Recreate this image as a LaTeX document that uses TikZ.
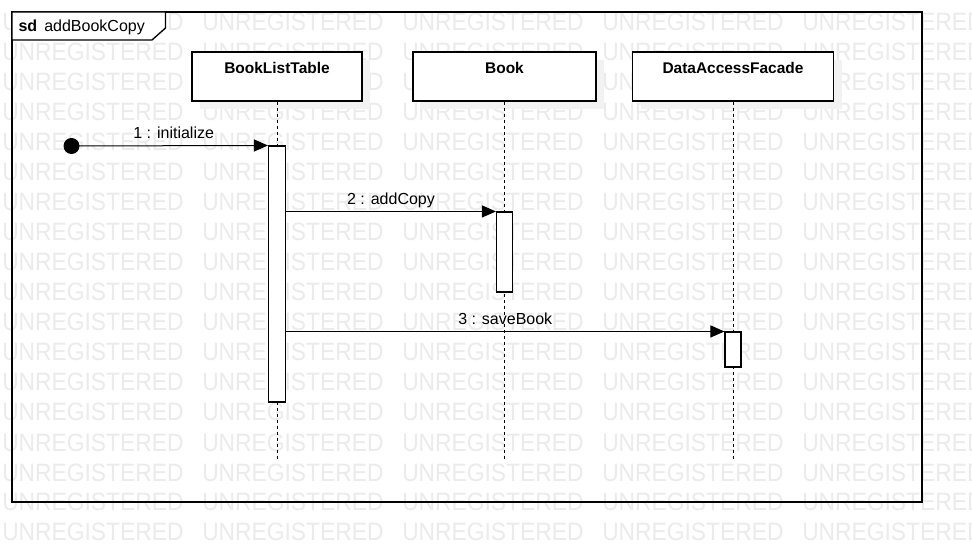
\documentclass[tikz,border=0pt]{standalone}
\usepackage{fontspec}
\usepackage{graphicx}
\setmainfont{Liberation Sans}
\usetikzlibrary{arrows.meta,shadows}
\begin{document}
\begin{tikzpicture}[x=0.75pt,y=-0.75pt,
  wm/.style={text=black!8, font=\fontsize{18.8}{20}\selectfont, anchor=base west, inner sep=0pt},
  frameline/.style={draw=black, line width=1pt},
  obj/.style={draw=black, fill=white, line width=0.8pt, inner xsep=0pt, inner ysep=0pt,
    minimum height=36.75pt, text height=16pt, text depth=20.75pt,
    font=\fontsize{11.6}{14}\selectfont\bfseries,
    drop shadow={shadow xshift=6pt, shadow yshift=-6pt, fill=black!5, opacity=1}},
  act/.style={draw=black, fill=white, line width=0.8pt, inner sep=0pt, minimum width=12pt},
  lifeline/.style={draw=black, line width=0.75pt, dash pattern=on 2.4pt off 2.1pt},
  msg/.style={draw=black, line width=0.75pt, -{Triangle[length=10.5pt,width=9pt]}},
  lbl/.style={font=\fontsize{12}{14}\selectfont, anchor=base, inner sep=0pt, yshift=5.4pt},
  startdot/.style={circle, fill=black, minimum size=12pt, inner sep=0pt}
]
\clip (0,0) rectangle (972,552);
\fill[white] (0,0) rectangle (972,552);
% watermark
\foreach \r in {0,...,17}{
  \foreach \c in {0,...,4}{
    \node[wm] (w\r-\c) at (2+200*\c, 31+30*\r) {\scalebox{0.91}[1]{UNREGISTERED}};
  }
}
% frame
\draw[frameline] (12,12) rectangle (922,502);
\draw[frameline, fill=white] (12,12) -- (165.5,12) -- (165.5,28) -- (152,40) -- (12,40) -- cycle;
\node[anchor=base west, inner sep=0pt, font=\fontsize{12}{14}\selectfont] (title) at (18.3,31.5) {\textbf{sd}\hspace{5.3pt}addBookCopy};
% objects
\node[obj, minimum width=127.5pt] (blt) at (277,76.5) {BookListTable};
\node[obj, minimum width=137.25pt] (book) at (504.5,76.5) {Book};
\node[obj, minimum width=150.75pt] (daf) at (733,76.5) {DataAccessFacade};
% lifeline ends
\coordinate (bltend) at (277,459);
\coordinate (bookend) at (504.5,459);
\coordinate (dafend) at (733,459);
\draw[lifeline] (blt.south) -- (bltend);
\draw[lifeline] (book.south) -- (bookend);
\draw[lifeline] (daf.south) -- (dafend);
% activations
\node[act, minimum width=12.75pt, minimum height=192pt] (a1) at (277,274) {};
\node[act, minimum height=60pt] (a2) at (504.5,252) {};
\node[act, minimum height=26.25pt] (a3) at (733,349.5) {};
% start
\node[startdot] (start) at (71.5,146) {};
% messages
\draw[msg] (start.center) -- (a1.north west) node[lbl, pos=0.52] (m1) {1 : initialize};
\draw[msg] (a2.north west -| a1.east) -- (a2.north west) node[lbl, midway] (m2) {2 : addCopy};
\draw[msg] (a3.north west -| a1.east) -- (a3.north west) node[lbl, midway] (m3) {3 : saveBook};
\end{tikzpicture}
\end{document}
